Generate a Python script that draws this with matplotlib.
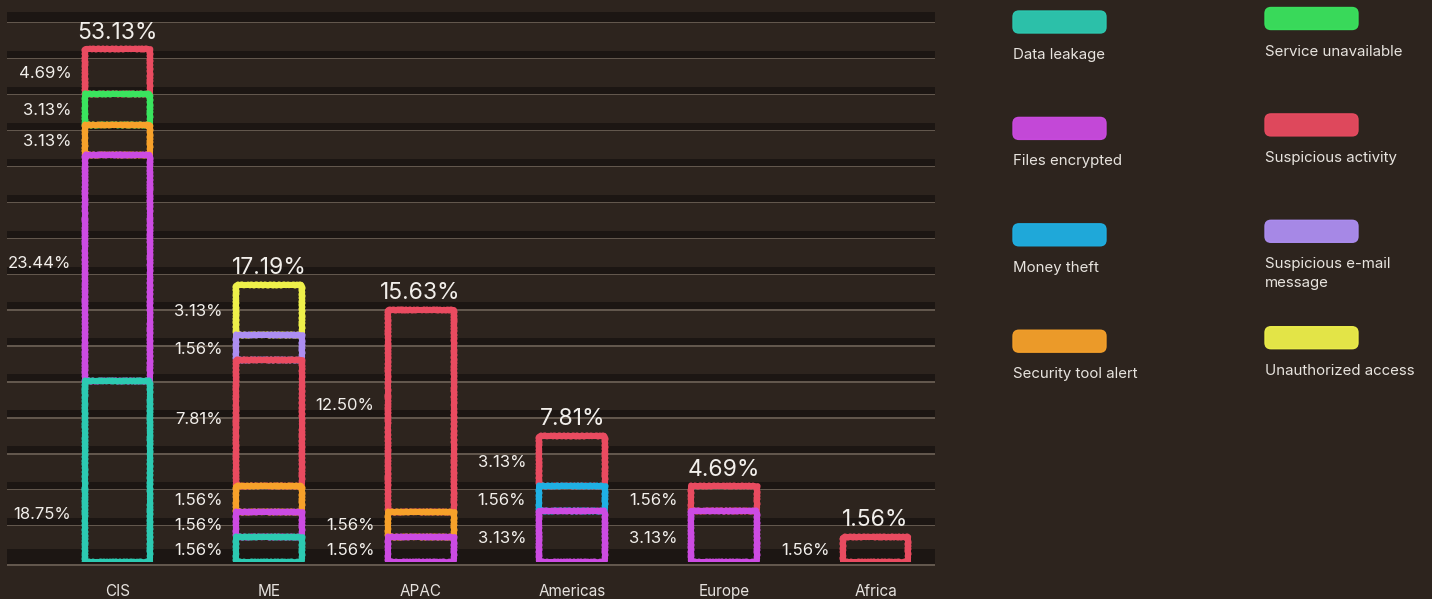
import matplotlib
matplotlib.use('Agg')
import matplotlib.pyplot as plt
from matplotlib.patches import FancyBboxPatch, Rectangle
import numpy as np

# ---------------- data ----------------
regions = ['CIS', 'ME', 'APAC', 'Americas', 'Europe', 'Africa']
total_labels = ['53.13%', '17.19%', '15.63%', '7.81%', '4.69%', '1.56%']

incident_types = ['Data leakage', 'Files encrypted', 'Money theft', 'Security tool alert',
                  'Service unavailable', 'Suspicious activity', 'Suspicious e-mail\nmessage',
                  'Unauthorized access']
colors = ['#2ccab2', '#cc4be2', '#1fb0e4', '#f7a12a', '#3ae45e', '#e94b60', '#ad8ef2', '#eef04a']

data_leakage        = [18.75, 1.56, 0.00, 0.00, 0.00, 0.00]
files_encrypted     = [23.44, 1.56, 1.56, 3.13, 3.13, 0.00]
money_theft         = [0.00, 0.00, 0.00, 1.56, 0.00, 0.00]
security_tool_alert = [3.13, 1.56, 1.56, 0.00, 0.00, 0.00]
service_unavailable = [3.13, 0.00, 0.00, 0.00, 0.00, 0.00]
suspicious_activity = [4.69, 7.81, 12.50, 3.13, 1.56, 1.56]
suspicious_email    = [0.00, 1.56, 0.00, 0.00, 0.00, 0.00]
unauthorized_access = [0.00, 3.13, 0.00, 0.00, 0.00, 0.00]

series = [data_leakage, files_encrypted, money_theft, security_tool_alert,
          service_unavailable, suspicious_activity, suspicious_email, unauthorized_access]

# layout tweaks: vertical nudges (points) of some segment labels, as in the original
label_nudge = {(0, 0): -30, (0, 1): 4, (1, 5): 3.5, (2, 5): 5}

# ---------------- style ----------------
BG = '#2d241e'
DARK = '#1c1613'
LIGHT = '#62574d'
TXT = '#f2efeb'
FONT = 'Inter'
plt.rcParams['font.family'] = [FONT, 'DejaVu Sans']

W, H = 1432, 599
fig = plt.figure(figsize=(W / 100, H / 100), dpi=100)
fig.patch.set_facecolor(BG)

# decorative striped board (pixel coordinates)
deco = fig.add_axes([0, 0, 1, 1], zorder=0)
deco.set_xlim(0, W)
deco.set_ylim(H, 0)
deco.axis('off')
deco.add_patch(Rectangle((7, 12), 928, 10, color=DARK, lw=0))
deco.add_patch(Rectangle((7, 22), 928, 1.4, color=LIGHT, lw=0))
for k in range(1, 15):
    y = 22 + 35.93 * k
    deco.add_patch(Rectangle((7, y - 7), 928, 7, color=DARK, lw=0))
    deco.add_patch(Rectangle((7, y), 928, 1.4, color=LIGHT, lw=0))
deco.add_patch(Rectangle((7, 549), 928, 15, color=DARK, lw=0))
deco.add_patch(Rectangle((7, 564), 928, 1.6, color=LIGHT, lw=0))

# ---------------- bars ----------------
ax_rect = [0, 37 / H, 1, 562 / H]
xlim = (-117.5 / 151.6, (W - 117.5) / 151.6)
ax = fig.add_axes(ax_rect, zorder=2)       # regions other than CIS
ax_cis = fig.add_axes(ax_rect, zorder=3)   # CIS drawn on its own (compressed) scale
for a, ymax in ((ax, 562 / 16.15), (ax_cis, 562 / 9.65)):
    a.set_xlim(*xlim)
    a.set_ylim(0, ymax)
    a.axis('off')
    a.patch.set_alpha(0)

x = np.arange(len(regions))
bw = 0.435

for j, reg in enumerate(regions):
    a = ax_cis if j == 0 else ax
    bottom = 0.0
    for i, vals in enumerate(series):
        v = vals[j]
        if v <= 0:
            continue
        bars = a.bar(x[j], v, bottom=bottom, width=bw, fill=False,
                     edgecolor=colors[i], linewidth=4.2, zorder=20 - i)
        for b in bars:
            b.set_joinstyle('round')
            b.set_capstyle('round')
            b.set_sketch_params(scale=0.7, length=4, randomness=2)
        a.annotate(f'{v:.2f}%', xy=(x[j] - bw / 2, bottom + v / 2),
                   xytext=(-9.5, -1 + label_nudge.get((j, i), 0)),
                   textcoords='offset points', ha='right', va='center',
                   color=TXT, fontsize=12, annotation_clip=False)
        bottom += v
    a.annotate(total_labels[j], xy=(x[j], bottom), xytext=(0, 7.5),
               textcoords='offset points', ha='center', va='baseline',
               color=TXT, fontsize=16.5, annotation_clip=False)
    ax.annotate(reg, xy=(x[j], 0), xytext=(0, -24.5),
                textcoords='offset points', ha='center', va='baseline',
                color='#e6e2de', fontsize=11, annotation_clip=False)

# ---------------- legend ----------------
leg = fig.add_axes([0, 0, 1, 1], zorder=4)
leg.set_xlim(0, W)
leg.set_ylim(H, 0)
leg.axis('off')
leg.patch.set_alpha(0)
col_x = [1013, 1265]
col_top = [11, 7.5]
row_step = 106.4
for k, (name, c) in enumerate(zip(incident_types, colors)):
    col, row = divmod(k, 4)
    x0 = col_x[col]
    y0 = col_top[col] + row_step * row
    leg.add_patch(FancyBboxPatch((x0, y0), 93, 22,
                                 boxstyle='round,pad=0,rounding_size=6',
                                 facecolor=c, edgecolor=c, lw=1.0, alpha=0.95))
    leg.text(x0, y0 + 37, name, color='#e8e4df', fontsize=10.8,
             ha='left', va='top', linespacing=1.42)

fig.savefig('out.png', dpi=100, facecolor=BG)
